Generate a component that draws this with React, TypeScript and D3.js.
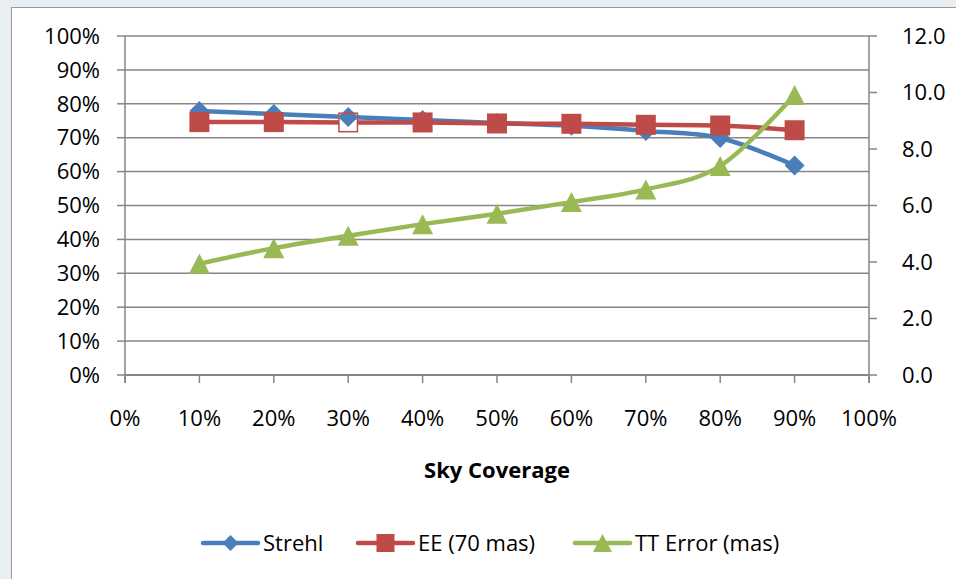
import React from "react";
import * as d3 from "d3";

const categories = [0.1, 0.2, 0.3, 0.4, 0.5, 0.6, 0.7, 0.8, 0.9];
const strehl = [0.779, 0.770, 0.761, 0.752, 0.743, 0.735, 0.720, 0.699, 0.618];
const ee = [0.746, 0.746, 0.745, 0.745, 0.742, 0.741, 0.738, 0.736, 0.722];
const ttError = [3.94, 4.49, 4.93, 5.34, 5.71, 6.12, 6.57, 7.40, 9.91];
const hollowEE = [2];
const xTicks = [0, 0.1, 0.2, 0.3, 0.4, 0.5, 0.6, 0.7, 0.8, 0.9, 1.0];
const leftTicks = [0, 0.1, 0.2, 0.3, 0.4, 0.5, 0.6, 0.7, 0.8, 0.9, 1.0];
const rightTicks = [0, 2, 4, 6, 8, 10, 12];
const seriesNames = ["Strehl", "EE (70 mas)", "TT Error (mas)"];
const xTitle = "Sky Coverage";

const W = 956, H = 579;
const L = 125, R = 869, T = 36, B = 375;
const FONT = "'Open Sans', sans-serif";
const FS = 22;
const BLUE = "#4A7EBB", RED = "#BE4B48", GREEN = "#98B954";
const AX = "#868686";
const MS = 10;

function marker(kind: string, x: number, y: number, color: string, s: number, key: any, hollow = false) {
  if (kind === "diamond") {
    return <path key={key} d={`M${x},${y - s}L${x + s},${y}L${x},${y + s}L${x - s},${y}Z`} fill={color} />;
  }
  if (kind === "square") {
    const ss = hollow ? s - 0.75 : s;
    return <rect key={key} x={x - ss} y={y - ss} width={2 * ss} height={2 * ss}
      fill={hollow ? "#fff" : color} stroke={color} strokeWidth={hollow ? 1.5 : 0} />;
  }
  return <path key={key} d={`M${x},${y - s}L${x + s * 1.05},${y + s}L${x - s * 1.05},${y + s}Z`} fill={color} />;
}

export default function App() {
  const x = d3.scaleLinear().domain([0, 1]).range([L, R]);
  const yL = d3.scaleLinear().domain([0, 1]).range([B, T]);
  const yR = d3.scaleLinear().domain([0, 12]).range([B, T]);
  const pct = d3.format(".0%");
  const one = d3.format(".1f");

  const curve = d3.curveCardinal.tension(0);
  const lineL = d3.line<number>().x((_, i) => x(categories[i])).y(d => yL(d)).curve(curve);
  const lineR = d3.line<number>().x((_, i) => x(categories[i])).y(d => yR(d)).curve(curve);

  const legendY = 543;
  const legend = [
    { x0: 203, color: BLUE, kind: "diamond", s: 8, name: seriesNames[0] },
    { x0: 358, color: RED, kind: "square", s: 9, name: seriesNames[1] },
    { x0: 575, color: GREEN, kind: "triangle", s: 9, name: seriesNames[2] },
  ];

  return (
    <svg width={W} height={H} style={{ position: "absolute", left: 0, top: 0 }} fontFamily={FONT}>
      <defs>
        {hollowEE.map(i => (
          <clipPath id={"hc" + i} key={"hc" + i}>
            <rect x={x(categories[i]) - MS + 1.5} y={yL(ee[i]) - MS + 1.5} width={2 * MS - 3} height={2 * MS - 3} />
          </clipPath>
        ))}
      </defs>
      <rect x={0} y={0} width={W} height={H} fill="#E9EEF3" />
      <rect x={11.5} y={7.5} width={W} height={H} fill="#fff" stroke="#9A9A9A" strokeWidth={1} />
      {leftTicks.map(t => (
        <line key={"g" + t} x1={L} x2={R} y1={yL(t)} y2={yL(t)} stroke={AX} strokeWidth={1.5} />
      ))}
      <line x1={L} x2={L} y1={T} y2={B + 8} stroke={AX} strokeWidth={1.5} />
      <line x1={R} x2={R} y1={T} y2={B + 8} stroke={AX} strokeWidth={1.5} />
      <line x1={L} x2={R} y1={B} y2={B} stroke={AX} strokeWidth={2} />
      {leftTicks.map(t => (
        <g key={"l" + t}>
          <line x1={L - 8} x2={L} y1={yL(t)} y2={yL(t)} stroke={AX} strokeWidth={1.5} />
          <text x={100} y={yL(t)} dy="0.35em" textAnchor="end" fontSize={FS} fill="#000">{pct(t)}</text>
        </g>
      ))}
      {rightTicks.map(t => (
        <g key={"r" + t}>
          <line x1={R} x2={R + 8} y1={yR(t)} y2={yR(t)} stroke={AX} strokeWidth={1.5} />
          <text x={902} y={yR(t)} dy="0.35em" textAnchor="start" fontSize={FS} fill="#000">{one(t)}</text>
        </g>
      ))}
      {xTicks.map(t => (
        <g key={"x" + t}>
          <line x1={x(t)} x2={x(t)} y1={B} y2={B + 8} stroke={AX} strokeWidth={1.5} />
          <text x={x(t)} y={418} dy="0.35em" textAnchor="middle" fontSize={FS} fill="#000">{pct(t)}</text>
        </g>
      ))}
      <text x={(L + R) / 2} y={470} dy="0.35em" textAnchor="middle" fontSize={FS} fontWeight="bold" fill="#000">{xTitle}</text>

      <path d={lineL(strehl) || ""} fill="none" stroke={BLUE} strokeWidth={4.5} strokeLinejoin="round" />
      {strehl.map((v, i) => marker("diamond", x(categories[i]), yL(v), BLUE, MS, "s" + i))}
      <path d={lineL(ee) || ""} fill="none" stroke={RED} strokeWidth={4.5} strokeLinejoin="round" />
      {ee.map((v, i) => marker("square", x(categories[i]), yL(v), RED, MS, "e" + i, hollowEE.includes(i)))}
      {hollowEE.map(i => (
        <g key={"hs" + i} clipPath={`url(#hc${i})`}>
          <path d={lineL(strehl) || ""} fill="none" stroke={BLUE} strokeWidth={4.5} />
          {marker("diamond", x(categories[i]), yL(strehl[i]), BLUE, MS, "hd" + i)}
        </g>
      ))}
      <path d={lineR(ttError) || ""} fill="none" stroke={GREEN} strokeWidth={4.5} strokeLinejoin="round" />
      {ttError.map((v, i) => marker("triangle", x(categories[i]), yR(v), GREEN, MS, "t" + i))}

      {legend.map((l, i) => (
        <g key={"lg" + i}>
          <line x1={l.x0} x2={l.x0 + 55} y1={legendY} y2={legendY} stroke={l.color} strokeWidth={4.5} strokeLinecap="round" />
          {marker(l.kind, l.x0 + 27.5, legendY, l.color, l.s, "m" + i)}
          <text x={l.x0 + 60} y={legendY} dy="0.35em" fontSize={FS} fill="#000">{l.name}</text>
        </g>
      ))}
    </svg>
  );
}
